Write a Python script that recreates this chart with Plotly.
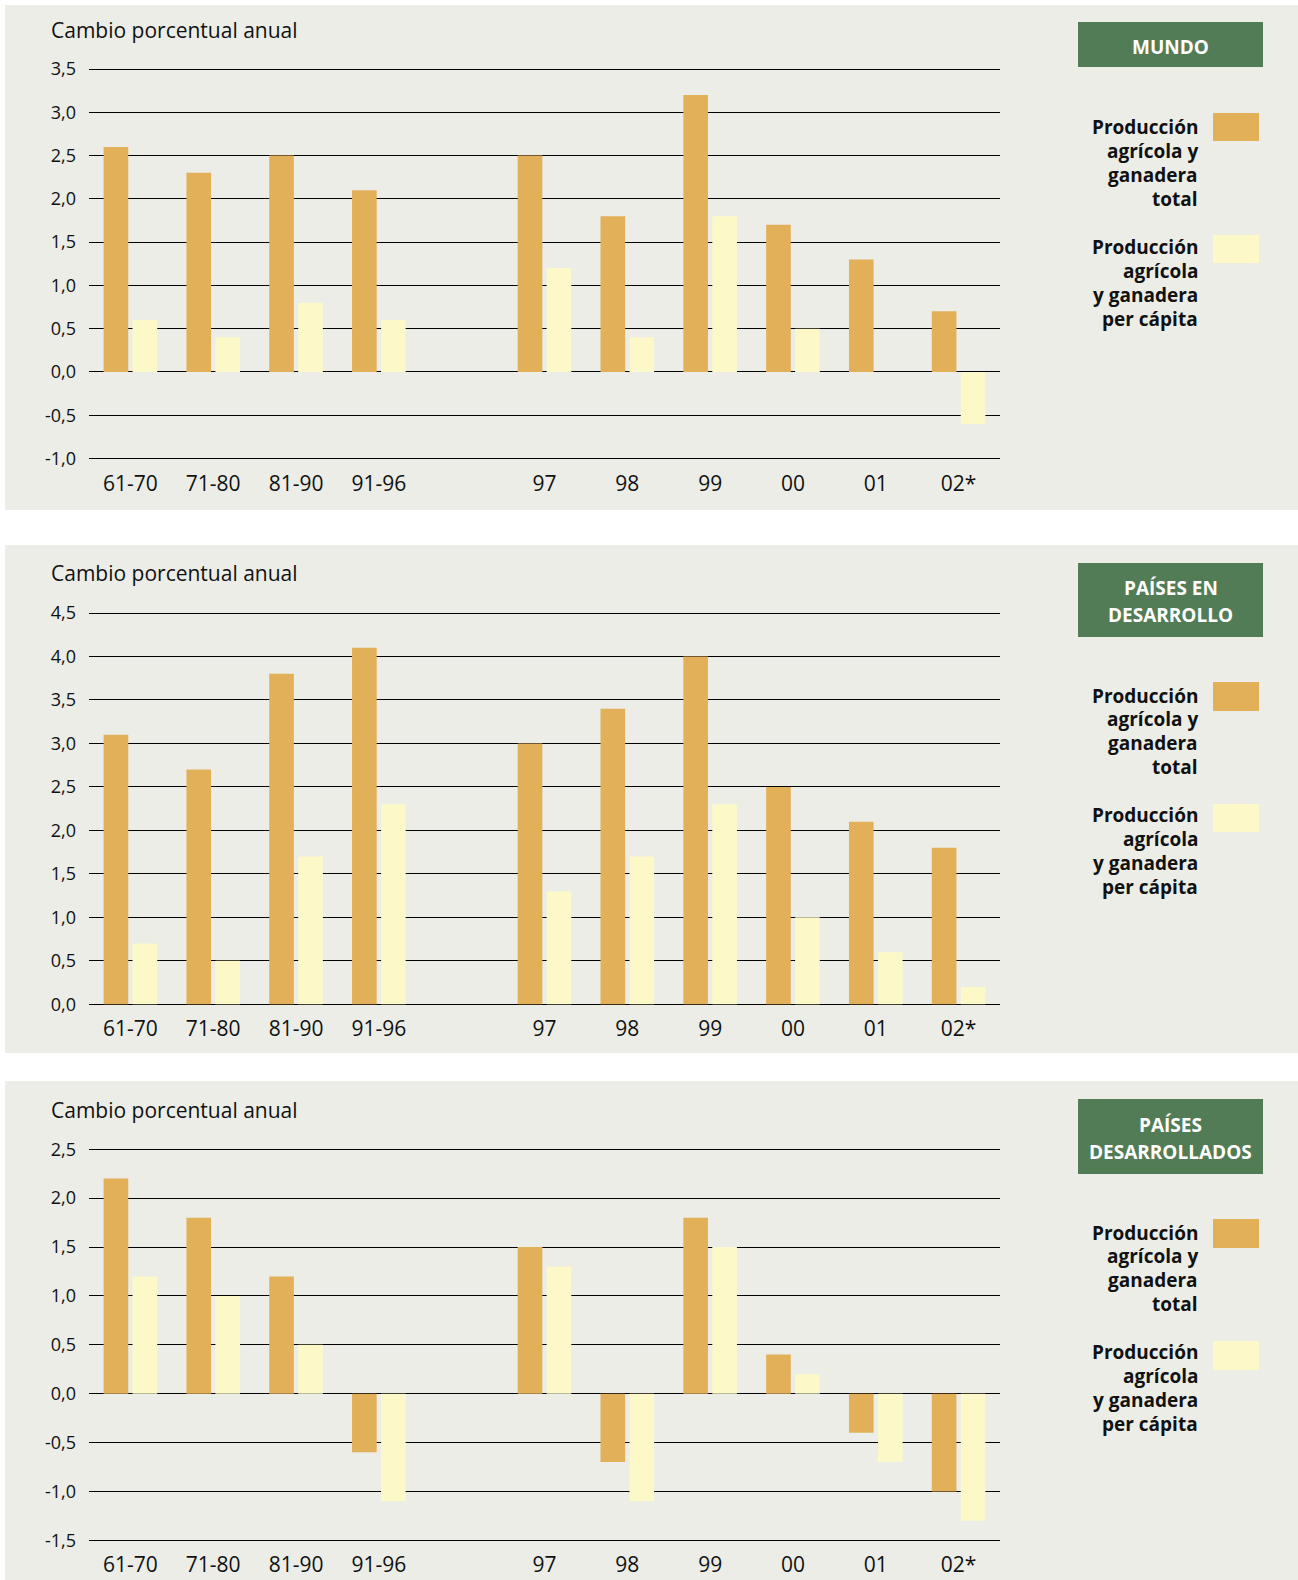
import plotly.graph_objects as go

# ---------------- data ----------------
categories = ["61-70", "71-80", "81-90", "91-96", "", "97", "98", "99", "00", "01", "02*"]

mundo_total = [2.6, 2.3, 2.5, 2.1, None, 2.5, 1.8, 3.2, 1.7, 1.3, 0.7]
mundo_percap = [0.6, 0.4, 0.8, 0.6, None, 1.2, 0.4, 1.8, 0.5, 0.0, -0.6]

desarrollo_total = [3.1, 2.7, 3.8, 4.1, None, 3.0, 3.4, 4.0, 2.5, 2.1, 1.8]
desarrollo_percap = [0.7, 0.5, 1.7, 2.3, None, 1.3, 1.7, 2.3, 1.0, 0.6, 0.2]

desarrollados_total = [2.2, 1.8, 1.2, -0.6, None, 1.5, -0.7, 1.8, 0.4, -0.4, -1.0]
desarrollados_percap = [1.2, 1.0, 0.5, -1.1, None, 1.3, -1.1, 1.5, 0.2, -0.7, -1.3]

mundo_ticks = [-1.0, -0.5, 0.0, 0.5, 1.0, 1.5, 2.0, 2.5, 3.0, 3.5]
mundo_ticklabels = ["-1,0", "-0,5", "0,0", "0,5", "1,0", "1,5", "2,0", "2,5", "3,0", "3,5"]
desarrollo_ticks = [0.0, 0.5, 1.0, 1.5, 2.0, 2.5, 3.0, 3.5, 4.0, 4.5]
desarrollo_ticklabels = ["0,0", "0,5", "1,0", "1,5", "2,0", "2,5", "3,0", "3,5", "4,0", "4,5"]
desarrollados_ticks = [-1.5, -1.0, -0.5, 0.0, 0.5, 1.0, 1.5, 2.0, 2.5]
desarrollados_ticklabels = ["-1,5", "-1,0", "-0,5", "0,0", "0,5", "1,0", "1,5", "2,0", "2,5"]

panel_titles = [["MUNDO"], ["PAÍSES EN", "DESARROLLO"], ["PAÍSES", "DESARROLLADOS"]]
series_total_lines = ["Producción", "agrícola y", "ganadera", "total"]
series_percap_lines = ["Producción", "agrícola", "y ganadera", "per cápita"]
axis_title = "Cambio porcentual anual"

# ---------------- style ----------------
W, H = 1298, 1580
C_TOTAL = "#E3B05A"
C_PERCAP = "#FCF8C8"
C_BG = "#EBEDE6"
C_GREEN = "#527C56"
C_TEXT = "#111111"
FONT = "Open Sans"
PAD_PX = 4


def xp(px):
    return px / W


def yp(py):
    return 1 - py / H


panels = [
    dict(total=mundo_total, percap=mundo_percap, ticks=mundo_ticks, labels=mundo_ticklabels,
         bg=(5, 510), plot=(69.0, 458.5), title_y=30, box=(22, 67), box_lines=[47.4],
         leg1=127, leg2=247, sw1=(113, 141), sw2=(235, 263), name=panel_titles[0]),
    dict(total=desarrollo_total, percap=desarrollo_percap, ticks=desarrollo_ticks,
         labels=desarrollo_ticklabels, bg=(545, 1053), plot=(613.0, 1004.3), title_y=573.5,
         box=(563, 637), box_lines=[587.5, 614.5], leg1=695.5, leg2=815,
         sw1=(682, 711), sw2=(804, 832), name=panel_titles[1]),
    dict(total=desarrollados_total, percap=desarrollados_percap, ticks=desarrollados_ticks,
         labels=desarrollados_ticklabels, bg=(1081, 1580), plot=(1149.3, 1540.3),
         title_y=1109.5, box=(1099, 1174), box_lines=[1124.7, 1151.8], leg1=1232.5, leg2=1352,
         sw1=(1219, 1248), sw2=(1341, 1370), name=panel_titles[2]),
]

x_idx = list(range(len(categories)))
fig = go.Figure()
shapes = []
annotations = []
layout_axes = {}
LEG_STEP = 23.9

for i, p in enumerate(panels):
    sfx = "" if i == 0 else str(i + 1)
    xa, ya = "x" + sfx, "y" + sfx
    fig.add_trace(go.Bar(x=x_idx, y=p["total"], marker=dict(color=C_TOTAL, line=dict(width=0)),
                         xaxis=xa, yaxis=ya, showlegend=False, hoverinfo="y"))
    fig.add_trace(go.Bar(x=x_idx, y=p["percap"], marker=dict(color=C_PERCAP, line=dict(width=0)),
                         xaxis=xa, yaxis=ya, showlegend=False, hoverinfo="y"))

    top, bot = p["plot"]
    t = p["ticks"]
    ppu = (bot - top) / (t[-1] - t[0])  # pixels per unit
    eps = PAD_PX / ppu
    layout_axes["xaxis" + sfx] = dict(
        domain=[xp(89), xp(1000)], anchor=ya, range=[-0.5, len(categories) - 0.5],
        tickvals=x_idx, ticktext=categories, showgrid=False, zeroline=False, showline=False,
        ticks="", ticklabelstandoff=10 - PAD_PX, automargin=False,
        tickfont=dict(family=FONT, size=21, color=C_TEXT), fixedrange=True)
    layout_axes["yaxis" + sfx] = dict(
        domain=[yp(bot + PAD_PX), yp(top - PAD_PX)], anchor=xa, range=[t[0] - eps, t[-1] + eps],
        tickvals=t, ticktext=p["labels"], showgrid=True, gridcolor="#000000", gridwidth=1.3,
        zeroline=False, showline=False, ticks="", ticklabelstandoff=12, automargin=False,
        tickfont=dict(family=FONT, size=18, color=C_TEXT), fixedrange=True)

    # panel background
    shapes.append(dict(type="rect", xref="paper", yref="paper", x0=xp(5), x1=xp(1298),
                       y0=yp(p["bg"][1]), y1=yp(p["bg"][0]), fillcolor=C_BG,
                       line=dict(width=0), layer="below"))
    # green title box
    shapes.append(dict(type="rect", xref="paper", yref="paper", x0=xp(1078), x1=xp(1263),
                       y0=yp(p["box"][1]), y1=yp(p["box"][0]), fillcolor=C_GREEN,
                       line=dict(width=0), layer="below"))
    # legend swatches
    for (s0, s1), col in ((p["sw1"], C_TOTAL), (p["sw2"], C_PERCAP)):
        shapes.append(dict(type="rect", xref="paper", yref="paper", x0=xp(1213), x1=xp(1259),
                           y0=yp(s1), y1=yp(s0), fillcolor=col, line=dict(width=0),
                           layer="below"))

    annotations.append(dict(text=axis_title, xref="paper", yref="paper", x=xp(49),
                            y=yp(p["title_y"]), xanchor="left", yanchor="middle",
                            showarrow=False, font=dict(family=FONT, size=21, color=C_TEXT)))
    for line_txt, cy in zip(p["name"], p["box_lines"]):
        annotations.append(dict(text="<b>" + line_txt + "</b>", xref="paper", yref="paper",
                                x=xp(1170.5), y=yp(cy), xanchor="center", yanchor="middle",
                                showarrow=False,
                                font=dict(family=FONT, size=19, color="#FFFFFF")))
    for ly, lines in ((p["leg1"], series_total_lines), (p["leg2"], series_percap_lines)):
        for k, line_txt in enumerate(lines):
            annotations.append(dict(text="<b>" + line_txt + "</b>", xref="paper", yref="paper",
                                    x=xp(1200), y=yp(ly + k * LEG_STEP), xanchor="right",
                                    yanchor="middle", showarrow=False,
                                    font=dict(family=FONT, size=19, color=C_TEXT)))

fig.update_layout(
    width=W, height=H, margin=dict(l=0, r=0, t=0, b=0, autoexpand=False),
    paper_bgcolor="#FFFFFF", plot_bgcolor="rgba(0,0,0,0)",
    barmode="group", bargap=0.30, bargroupgap=0.15,
    shapes=shapes, annotations=annotations, showlegend=False,
    **layout_axes,
)

fig.write_html(
    "out.html",
    config={"displayModeBar": False},
    post_script="document.documentElement.style.margin='0';document.body.style.margin='0';"
                "document.body.style.padding='0';document.body.style.overflow='hidden';",
)
